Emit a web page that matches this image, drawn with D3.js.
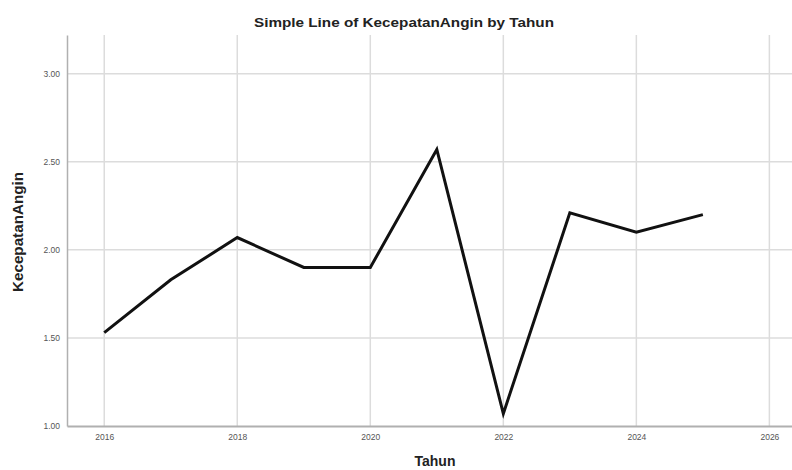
<!DOCTYPE html>
<html>
<head>
<meta charset="utf-8">
<script src="https://cdn.jsdelivr.net/npm/d3@7"></script>
<style>
  body { margin: 0; background: #fff; }
  svg { font-family: Arial, "Liberation Sans", sans-serif; }
  .grid line { stroke: #dcdcdc; stroke-width: 1.5; }
  .axis path, .axis line { stroke: #b0b0b0; }
  .axis text { fill: #555; font-size: 8.5px; }
</style>
</head>
<body>
<div id="chart"></div>
<script>
var years = [2016, 2017, 2018, 2019, 2020, 2021, 2022, 2023, 2024, 2025];
var kecepatan = [1.53, 1.83, 2.07, 1.90, 1.90, 2.57, 1.07, 2.21, 2.10, 2.20];
var xTicks = [2016, 2018, 2020, 2022, 2024, 2026];
var yTicks = [1.00, 1.50, 2.00, 2.50, 3.00];

var data = years.map(function (y, i) { return { Year: y, Value: kecepatan[i] }; });

var W = 792, H = 470;
var margin = { top: 35, right: 0, bottom: 44, left: 67 },
  width = W - margin.left - margin.right,
  height = H - margin.top - margin.bottom;

var x = d3.scaleLinear().domain([2015.44, 2026.34]).range([0, width]);
var y = d3.scaleLinear().domain([1.0, 3.22]).range([height, 0]);

var svg = d3.select("#chart")
  .append("svg")
  .attr("width", W)
  .attr("height", H);

var g = svg.append("g")
  .attr("transform", "translate(" + margin.left + "," + margin.top + ")");

// grid lines
g.append("g")
  .attr("class", "grid")
  .selectAll("line.v")
  .data(xTicks)
  .enter().append("line")
  .attr("x1", function (d) { return x(d); })
  .attr("x2", function (d) { return x(d); })
  .attr("y1", 0)
  .attr("y2", height);

g.append("g")
  .attr("class", "grid")
  .selectAll("line.h")
  .data(yTicks.slice(1))
  .enter().append("line")
  .attr("x1", 0)
  .attr("x2", width)
  .attr("y1", function (d) { return y(d); })
  .attr("y2", function (d) { return y(d); });

// axes
g.append("g")
  .attr("class", "x axis")
  .attr("transform", "translate(0," + height + ")")
  .call(d3.axisBottom(x).tickValues(xTicks).tickFormat(d3.format("d")).tickSize(0).tickPadding(8))
  .select(".domain").attr("stroke-width", 2);

g.append("g")
  .attr("class", "y axis")
  .call(d3.axisLeft(y).tickValues(yTicks).tickFormat(d3.format(".2f")).tickSize(0).tickPadding(7))
  .select(".domain").attr("stroke-width", 1.5);

// the line
var valueline = d3.line()
  .x(function (d) { return x(d.Year); })
  .y(function (d) { return y(d.Value); });

g.append("path")
  .datum(data)
  .attr("fill", "none")
  .attr("stroke", "#111")
  .attr("stroke-width", 3)
  .attr("stroke-linejoin", "miter")
  .attr("d", valueline);

// title and axis labels
svg.append("text")
  .attr("x", 404)
  .attr("y", 27)
  .attr("text-anchor", "middle")
  .attr("textLength", 300)
  .attr("lengthAdjust", "spacingAndGlyphs")
  .style("font-size", "13.5px")
  .style("font-weight", "bold")
  .style("fill", "#222")
  .text("Simple Line of KecepatanAngin by Tahun");

svg.append("text")
  .attr("x", 435)
  .attr("y", 466)
  .attr("text-anchor", "middle")
  .style("font-size", "14px")
  .style("font-weight", "bold")
  .style("fill", "#222")
  .text("Tahun");

svg.append("text")
  .attr("transform", "translate(23,232) rotate(-90)")
  .attr("text-anchor", "middle")
  .attr("textLength", 120)
  .attr("lengthAdjust", "spacingAndGlyphs")
  .style("font-size", "14px")
  .style("font-weight", "bold")
  .style("fill", "#222")
  .text("KecepatanAngin");
</script>
</body>
</html>
